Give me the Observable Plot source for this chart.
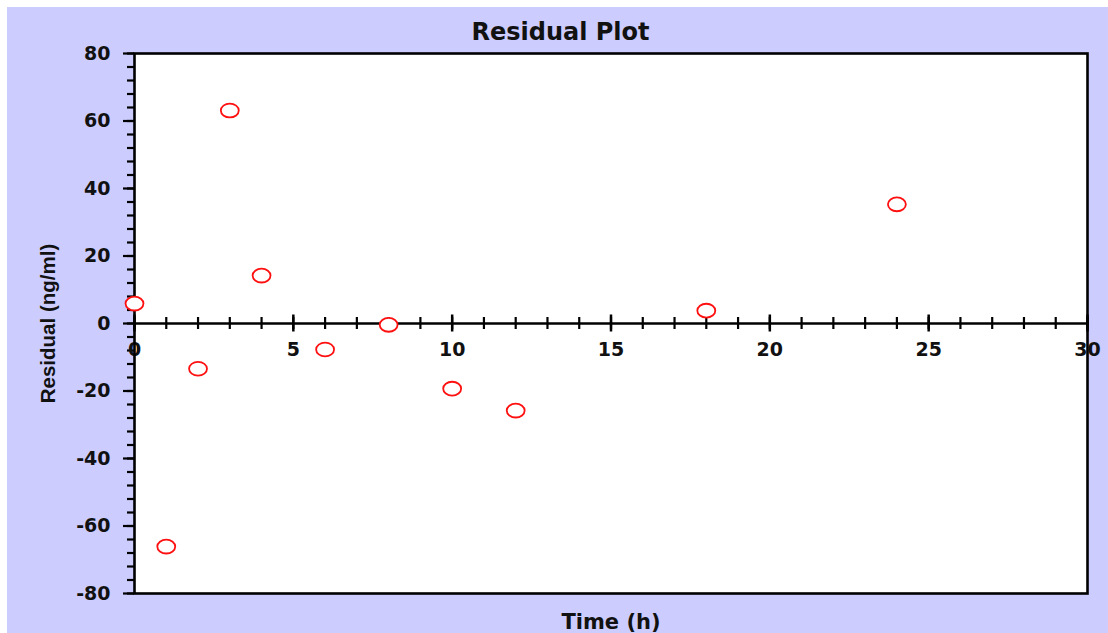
<!DOCTYPE html>
<html>
<head>
<meta charset="utf-8">
<script src="https://cdn.jsdelivr.net/npm/d3@7"></script>
<script src="https://cdn.jsdelivr.net/npm/@observablehq/plot@0.6"></script>
<style>
  html, body { margin: 0; padding: 0; background: #ffffff; }
  #panel {
    position: absolute; left: 7px; top: 7px;
    width: 1101px; height: 626px;
    background: #ccccff; overflow: hidden;
  }
  #title {
    position: absolute; left: 0; top: 11px; width: 100%;
    line-height: 40px; text-align: center;
    font: bold 24px "DejaVu Sans", sans-serif; color: #111;
    padding-left: 6px; box-sizing: border-box;
  }
  #chart { position: absolute; left: 0; top: 0; }
</style>
</head>
<body>
<div id="panel">
  <div id="chart"></div>
  <div id="title">Residual Plot</div>
</div>
<script>
// Sampling times (h) and the fitted-model residuals (ng/ml)
const times = [0, 1, 2, 3, 4, 6, 8, 10, 12, 18, 24];
const residuals = [5.9, -66.1, -13.4, 63.1, 14.2, -7.7, -0.4, -19.3, -25.8, 3.8, 35.3];

// Axis ticks
const yMajorTicks = [-80, -60, -40, -20, 0, 20, 40, 60, 80];
const yMinorTicks = d3.range(-80, 81, 4);
const xMajorTicks = [0, 5, 10, 15, 20, 25, 30];
const xMinorTicks = d3.range(0, 31, 1);

const points = times.map((t, i) => ({time: t, residual: residuals[i]}));

// Open ellipse marker, a little wider than tall
const ellipse = {
  draw(context, size) {
    const r = Math.sqrt(size / Math.PI);
    const rx = r * 1.3, ry = r, k = 0.5523;
    context.moveTo(rx, 0);
    context.bezierCurveTo(rx, ry * k, rx * k, ry, 0, ry);
    context.bezierCurveTo(-rx * k, ry, -rx, ry * k, -rx, 0);
    context.bezierCurveTo(-rx, -ry * k, -rx * k, -ry, 0, -ry);
    context.bezierCurveTo(rx * k, -ry, rx, -ry * k, rx, 0);
    context.closePath();
  }
};

const font = "DejaVu Sans, sans-serif";
const ink = "#111";
// plain hyphen for negative numbers
const fmt = d => String(d);

const chart = Plot.plot({
  width: 1101,
  height: 626,
  marginLeft: 127,
  marginTop: 46,
  marginRight: 21,
  marginBottom: 40,
  style: {background: "transparent", overflow: "visible"},
  x: {domain: [0, 30], label: null, axis: null},
  y: {domain: [-80, 80], label: null, axis: null},
  marks: [
    Plot.frame({fill: "white", stroke: null}),
    // minor and major y ticks with labels on the left edge
    Plot.axisY(yMinorTicks, {tickSize: 7, strokeWidth: 2.2, stroke: "black", text: null, label: null}),
    Plot.axisY(yMajorTicks, {
      tickSize: 11, tickPadding: 13, strokeWidth: 2.2, stroke: "black", tickFormat: fmt,
      fontSize: 19, fontWeight: "bold", fontFamily: font, fill: ink, label: null
    }),
    // horizontal zero line acting as the x axis
    Plot.ruleY([0], {stroke: "black", strokeWidth: 2.5}),
    Plot.ruleX(xMinorTicks, {x: d => d, y1: 0, y2: 0, insetTop: -6, insetBottom: -6, stroke: "black", strokeWidth: 2.2}),
    Plot.ruleX(xMajorTicks, {x: d => d, y1: 0, y2: 0, insetTop: -8.5, insetBottom: -8.5, stroke: "black", strokeWidth: 2.5}),
    Plot.text(xMajorTicks, {
      x: d => d, y: 0, text: fmt, dy: 26,
      fontSize: 19, fontWeight: "bold", fontFamily: font, fill: ink
    }),
    Plot.frame({stroke: "black", strokeWidth: 2.6}),
    // residual points
    Plot.dot(points, {
      x: "time", y: "residual", r: 6.9, symbol: ellipse,
      stroke: "#ff1010", strokeWidth: 1.8, fill: "white"
    }),
    // axis titles
    Plot.text(["Time (h)"], {
      frameAnchor: "bottom", dy: 35, text: d => d,
      fontSize: 21, fontWeight: "bold", fontFamily: font, fill: ink
    }),
    Plot.text(["Residual (ng/ml)"], {
      frameAnchor: "left", textAnchor: "middle", dx: -86, rotate: -90, text: d => d,
      fontSize: 20.5, fontWeight: "bold", fontFamily: "Liberation Sans, Arial, sans-serif", fill: ink
    })
  ]
});

document.getElementById("chart").appendChild(chart);
</script>
</body>
</html>
